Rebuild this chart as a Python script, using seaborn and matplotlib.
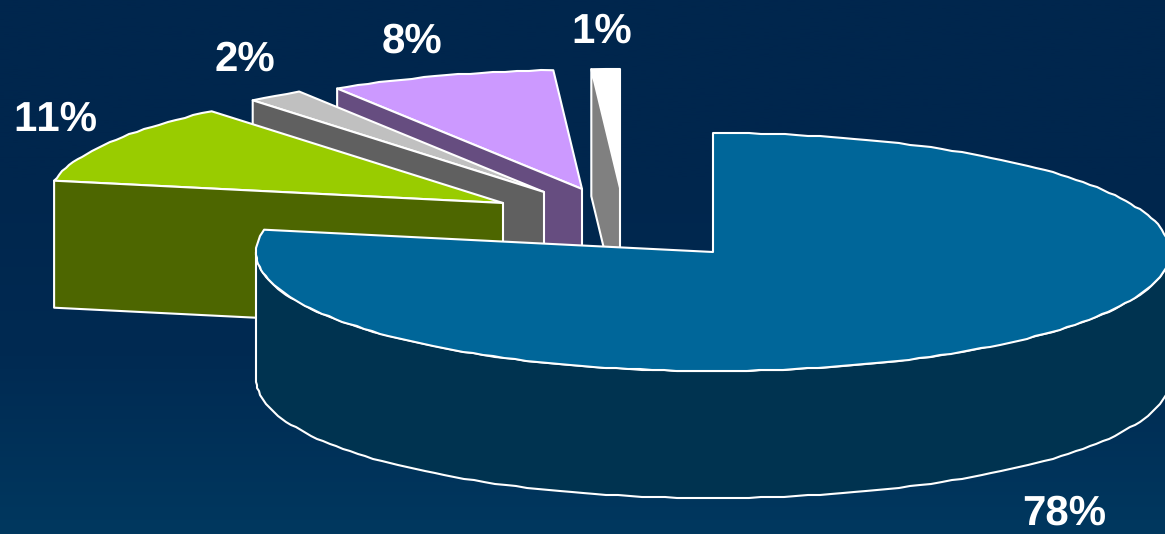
import numpy as np
import pandas as pd
import seaborn as sns
import matplotlib
matplotlib.use("Agg")
import matplotlib.pyplot as plt
from matplotlib.patches import Polygon

# Share of each slice in percent, clockwise from twelve o'clock
labels = ["78%", "11%", "2%", "8%", "1%"]
shares = [78, 11, 2, 8, 1]
top_colors = ["#006699", "#99CC00", "#C0C0C0", "#CC99FF", "#FFFFFF"]
wall_colors = ["#003350", "#4D6600", "#606060", "#664D80", "#808080"]

# Where each slice's tip sits once it is pulled out of the pie
tip_x = [713, 503, 544, 582, 620]
tip_y = [252, 203, 192, 189, 188]
label_x = [1064, 55, 245, 412, 602]
label_y = [525, 131, 71, 53, 43]

RX, RY, DEPTH = 457, 119, 127

sns.set_theme(style="white")
plt.rcParams["font.family"] = ["Liberation Sans", "DejaVu Sans"]
plt.rcParams["text.hinting"] = "none"
plt.rcParams["text.hinting_factor"] = 1
plt.rcParams["text.kerning_factor"] = 6

table = pd.DataFrame({"label": labels, "share": shares, "top": top_colors,
                      "wall": wall_colors, "tx": tip_x, "ty": tip_y,
                      "lx": label_x, "ly": label_y})
table["end"] = table["share"].cumsum() * 3.6
table["start"] = table["end"] - table["share"] * 3.6

fig = plt.figure(figsize=(11.65, 5.34), dpi=100)
ax = fig.add_axes([0, 0, 1, 1])

# Navy backdrop, brightening towards the lower edge
shade = sns.blend_palette(["#00264D", "#00264D", "#002A52", "#00385F"], n_colors=256, as_cmap=True)
ax.imshow(np.linspace(0, 1, 256)[:, None], cmap=shade, aspect="auto",
          extent=(0, 1165, 534, 0), zorder=0)


def rim(tx, ty, a0, a1):
    """Outer edge of a slice on its tilted ellipse, a little faceted."""
    n = max(2, int(abs(a1 - a0) / 1.5) + 1)
    ang = np.radians(np.linspace(a0, a1, n))
    pts = np.column_stack([tx + RX * np.sin(ang), ty - RY * np.cos(ang)])
    pts[1:-1] = np.round(pts[1:-1])
    return pts


def face(pts, color, z):
    ax.add_patch(Polygon(pts, closed=True, facecolor=color, edgecolor="white",
                         linewidth=1.5, joinstyle="round", zorder=z))


# Back slices first, so nearer ones overlap them: 1%, 8%, 2%, 11%, then 78%
for z, i in enumerate([4, 3, 2, 1]):
    row = table.iloc[i]
    tip = np.array([[row.tx, row.ty]], dtype=float)
    edge = rim(row.tx, row.ty, row.start, row.end)
    cut = np.vstack([edge[0], tip[0]])
    wall = np.vstack([cut, cut[::-1] + [0, DEPTH]])
    face(np.vstack([tip, edge]), row.top, 2 + z * 2)
    face(wall, row.wall, 3 + z * 2)

main = table.iloc[0]
front = rim(main.tx, main.ty, 90, 270)
face(np.vstack([front, front[::-1] + [0, DEPTH]]), main.wall, 20)
face(np.vstack([[[main.tx, main.ty]], rim(main.tx, main.ty, main.start, main.end)]), main.top, 21)

for row in table.itertuples():
    ax.text(row.lx, row.ly, row.label, color="white", fontsize=30.5, fontweight="bold",
            ha="center", va="baseline", zorder=30)

ax.set_xlim(0, 1165)
ax.set_ylim(534, 0)
ax.axis("off")
fig.savefig("out.png", dpi=100)
